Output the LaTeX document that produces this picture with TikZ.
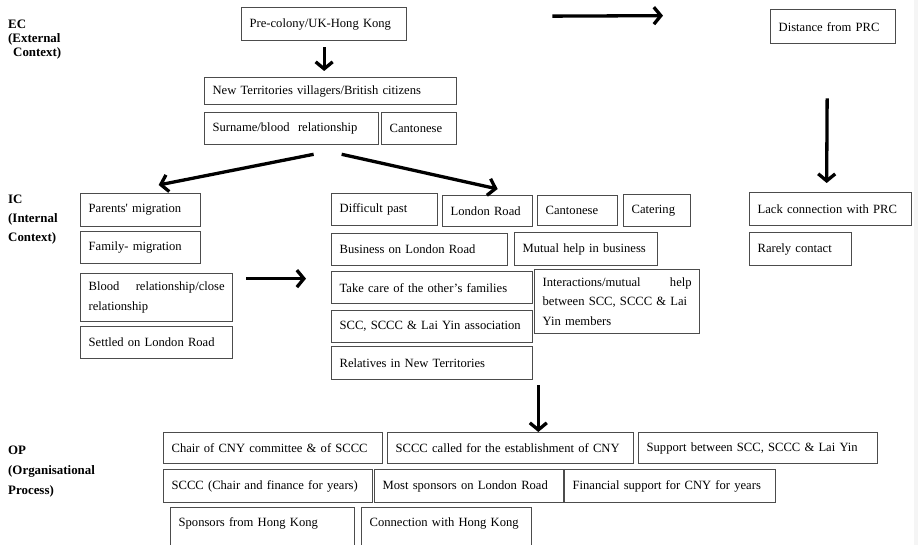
\documentclass[tikz,border=0pt]{standalone}
\usepackage{fontspec}
\setmainfont{Liberation Serif}
\usetikzlibrary{arrows.meta}
\hyphenpenalty=10000
\exhyphenpenalty=10000

\begin{document}
\begin{tikzpicture}[x=1pt, y=-1pt,
    every node/.style={font=\fontsize{12.6}{19.4}\selectfont},
    box/.style={draw=black!70, line width=1.3pt, anchor=north west, align=left,
        inner xsep=8pt, inner ysep=0pt},
    heading/.style={anchor=north west, align=left, inner sep=0pt},
    arr/.style={line width=3.3pt, -{Straight Barb[length=7pt, width=17pt, line width=3.3pt]}}]

    \useasboundingbox (0,0) rectangle (918,545);
    \fill[black!4] (914,0) rectangle (918,545);

    \node[heading, font=\fontsize{12.9}{14}\selectfont\bfseries] (ec) at (8,20)
        {EC\\(External\\\hspace*{5pt}Context)};
    \node[heading, font=\fontsize{12.9}{19.2}\selectfont\bfseries] (ic) at (8,194.5)
        {IC\\(Internal\\Context)};
    \node[heading, font=\fontsize{12.9}{20}\selectfont\bfseries] (op) at (8,445.7)
        {OP\\(Organisational\\Process)};

    \foreach \nm/\xa/\ya/\xb/\yb/\txt in {
        precol/241/7/406/40/{Pre-colony/UK-Hong Kong},
        ntv/204/77/456/104/{New Territories villagers/British citizens},
        surn/204/112/378/144/{Surname/blood\ \ relationship},
        cant1/381/112/456/144/{Cantonese},
        dist/770/9/895/43/{Distance from PRC},
        lack/749/192/911/225/{Lack connection with PRC},
        rare/749/232/851/265/{Rarely contact},
        parents/80/193/200/226/{Parents\textquotesingle\ migration},
        family/80/231/200/263/{Family- migration},
        blood/80/273/232/321/{Blood\hfill relationship/close\\relationship},
        settled/80/326/232/358/{Settled on London Road},
        diff/331/193/437/225/{Difficult past},
        lroad/442/195/532/226/{London Road},
        cant2/537/195/617/225/{Cantonese},
        cater/623/194/690/226/{Catering},
        busi/331/233/507/265/{Business on London Road},
        mutual/514/232/657/265/{Mutual help in business},
        care/331/271/532/303/{Take care of the other’s families},
        inter/534/269/699/333/{Interactions/mutual\hfill help\\between SCC, SCCC \& Lai\\Yin members},
        assoc/331/310/532/342/{SCC, SCCC \& Lai Yin association},
        rel/331/346/532/379/{Relatives in New Territories},
        chair/163/432/382/463/{Chair of CNY committee \& of SCCC},
        called/387/432/633/463/{SCCC called for the establishment of CNY},
        support/638/432/877/463/{Support between SCC, SCCC \& Lai Yin},
        sccc/163/469/372/502/{SCCC (Chair and finance for years)},
        most/374/469/563/502/{Most sponsors on London Road},
        fin/564/469/775/502/{Financial support for CNY for years}%
    } {
        \pgfmathsetmacro\boxw{\xb-\xa-16}
        \pgfmathsetmacro\boxh{\yb-\ya}
        \node[box, text width=\boxw pt, minimum height=\boxh pt] (\nm) at (\xa,\ya) {\txt};
    }

    \node[box, text width=168pt, inner ysep=10pt, text depth=40pt] (spons) at (170,507)
        {Sponsors from Hong Kong};
    \node[box, text width=154pt, inner ysep=10pt, text depth=40pt] (conn) at (361,507)
        {Connection with Hong Kong};

    \draw[arr] ([yshift=-6pt]precol.south) -- ([yshift=6pt]precol.south |- ntv.north);
    \draw[arr] ([xshift=22pt,yshift=-9pt]surn.south) -- ([xshift=18pt,yshift=8pt]parents.north);
    \draw[arr] ([xshift=50pt,yshift=-9pt]surn.south) -- ([xshift=10pt,yshift=6pt]lroad.north);
    \draw[arr] ([xshift=145pt,yshift=8pt]precol.east) -- ([xshift=-107pt,yshift=11pt]dist.west);
    \draw[arr] ([xshift=-6pt,yshift=-54pt]dist.south) -- ([xshift=-4pt,yshift=9pt]lack.north);
    \draw[arr] ([xshift=13pt,yshift=19pt]blood.east) -- ([xshift=-25pt,yshift=9pt]care.west);
    \draw[arr] ([xshift=5pt,yshift=-5pt]rel.south east) -- ([xshift=5pt]rel.south east |- called.north);

\end{tikzpicture}
\end{document}
